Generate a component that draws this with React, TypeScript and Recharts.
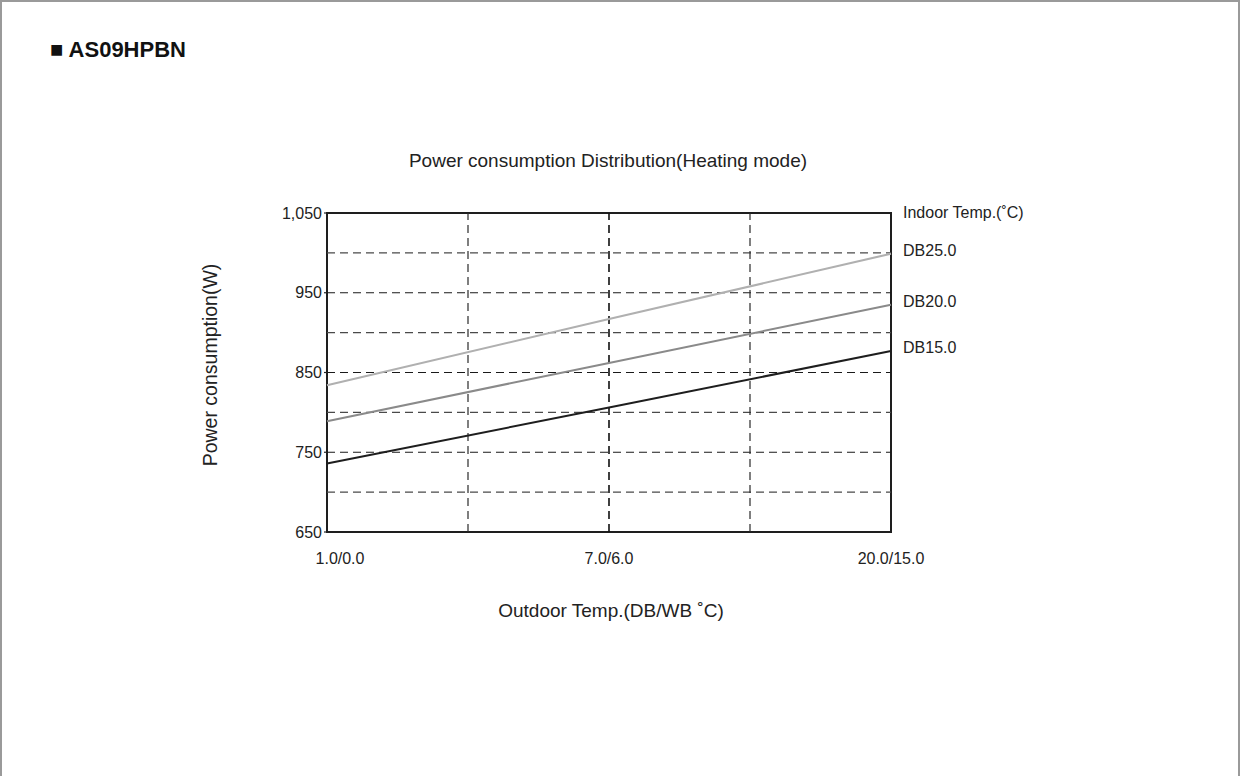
import React from "react";
import {
  LineChart,
  Line,
  XAxis,
  YAxis,
  ReferenceLine,
  ReferenceArea,
} from "recharts";

// Outdoor temperature steps (DB/WB °C), placed at equal spacing
const outdoorTemps = ["1.0/0.0", "7.0/6.0", "20.0/15.0"];

// Power consumption (W) per indoor temperature
const db25 = [834, 917, 999];
const db20 = [789, 862, 935];
const db15 = [736, 806, 877];

const seriesNames = ["DB25.0", "DB20.0", "DB15.0"];
const seriesColors = ["#b0b0b0", "#8a8a8a", "#1e1e1e"];

const yTicks = [650, 750, 850, 950, 1050];
const yGrid = [700, 750, 800, 850, 900, 950, 1000];
const xGrid = [0.5, 1, 1.5];

const FONT = '"Liberation Sans", Arial, Helvetica, sans-serif';
const TEXT = "#222";

const data = outdoorTemps.map((label, i) => ({
  pos: i,
  label,
  db25: db25[i],
  db20: db20[i],
  db15: db15[i],
}));

const keys = ["db25", "db20", "db15"];

const XTick = (props: any) => {
  const { x, y, payload } = props;
  const v = payload.value;
  if (!Number.isInteger(v)) return null;
  const label = outdoorTemps[v];
  // first label is nudged right so it clears the bottom y tick
  const shift = v === 0 ? 13 : 0;
  return (
    <text
      x={x + shift}
      y={y}
      dy="0.71em"
      textAnchor="middle"
      fontSize={16}
      fontFamily={FONT}
      fill={TEXT}
    >
      {label}
    </text>
  );
};

const YTick = (props: any) => {
  const { x, y, payload } = props;
  return (
    <text
      x={x}
      y={y}
      dy="0.355em"
      textAnchor="end"
      fontSize={16}
      fontFamily={FONT}
      fill={TEXT}
    >
      {Number(payload.value).toLocaleString("en-US")}
    </text>
  );
};

const endLabel = (name: string) => (props: any) => {
  const { x, y, index } = props;
  if (index !== outdoorTemps.length - 1) return null;
  return (
    <text
      x={x + 12}
      y={y + 2.5}
      fontSize={16}
      fontFamily={FONT}
      fill={TEXT}
    >
      {name}
    </text>
  );
};

export default function App() {
  return (
    <div
      style={{
        position: "absolute",
        left: 0,
        top: 0,
        width: 1240,
        height: 776,
        background: "#fff",
        overflow: "hidden",
      }}
    >
      <div style={{ position: "absolute", left: 0, top: 0 }}>
        <LineChart
          width={1240}
          height={776}
          data={data}
          margin={{ top: 213, right: 349, bottom: 214, left: 267 }}
          style={{ fontFamily: FONT }}
        >
          <XAxis
            dataKey="pos"
            type="number"
            domain={[0, 2]}
            ticks={[0, 0.5, 1, 1.5, 2]}
            height={30}
            axisLine={false}
            tickLine={false}
            tickSize={0}
            tickMargin={21}
            tick={<XTick />}
            interval={0}
          />
          <YAxis
            type="number"
            domain={[650, 1050]}
            ticks={yTicks}
            width={60}
            axisLine={false}
            tickLine={{ stroke: "#222", strokeWidth: 1.2 }}
            tickSize={3}
            tickMargin={2}
            tick={<YTick />}
            interval={0}
          />
          {yGrid.map((v, i) => (
            <ReferenceLine
              key={"h" + v}
              y={v}
              stroke={i % 2 === 0 ? "#4a4a4a" : "#1a1a1a"}
              strokeWidth={1.2}
              strokeDasharray="8 5"
            />
          ))}
          {xGrid.map((v) => (
            <ReferenceLine
              key={"v" + v}
              x={v}
              stroke={v === 1 ? "#111" : "#2a2a2a"}
              strokeWidth={v === 1 ? 1.6 : 1.2}
              strokeDasharray="8 5"
            />
          ))}
          {keys.map((k, i) => (
            <Line
              key={k}
              dataKey={k}
              name={seriesNames[i]}
              stroke={seriesColors[i]}
              strokeWidth={2}
              dot={false}
              isAnimationActive={false}
              label={endLabel(seriesNames[i])}
            />
          ))}
          <ReferenceArea
            x1={0}
            x2={2}
            y1={650}
            y2={1050}
            fill="none"
            fillOpacity={0}
            stroke="#1e1e1e"
            strokeWidth={2}
          />
          <text
            x={50}
            y={57}
            fontSize={22}
            fontWeight="bold"
            fontFamily={FONT}
            fill="#111"
          >
            ■ AS09HPBN
          </text>
          <text
            x={608}
            y={167}
            textAnchor="middle"
            fontSize={19}
            fontFamily={FONT}
            fill={TEXT}
          >
            Power consumption Distribution(Heating mode)
          </text>
          <text
            x={903}
            y={218}
            fontSize={16}
            fontFamily={FONT}
            fill={TEXT}
          >
            Indoor Temp.(˚C)
          </text>
          <text
            x={611}
            y={617}
            textAnchor="middle"
            fontSize={19}
            fontFamily={FONT}
            fill={TEXT}
          >
            Outdoor Temp.(DB/WB ˚C)
          </text>
          <text
            transform="translate(217,365) rotate(-90)"
            x={0}
            y={0}
            textAnchor="middle"
            fontSize={19.5}
            fontFamily={FONT}
            fill={TEXT}
          >
            Power consumption(W)
          </text>
        </LineChart>
      </div>
      <div
        style={{
          position: "absolute",
          left: 0,
          top: 0,
          width: 1240,
          height: 776,
          boxSizing: "border-box",
          borderLeft: "2px solid #9a9a9a",
          borderTop: "2px solid #9a9a9a",
          borderRight: "2px solid #9a9a9a",
          pointerEvents: "none",
        }}
      />
    </div>
  );
}
